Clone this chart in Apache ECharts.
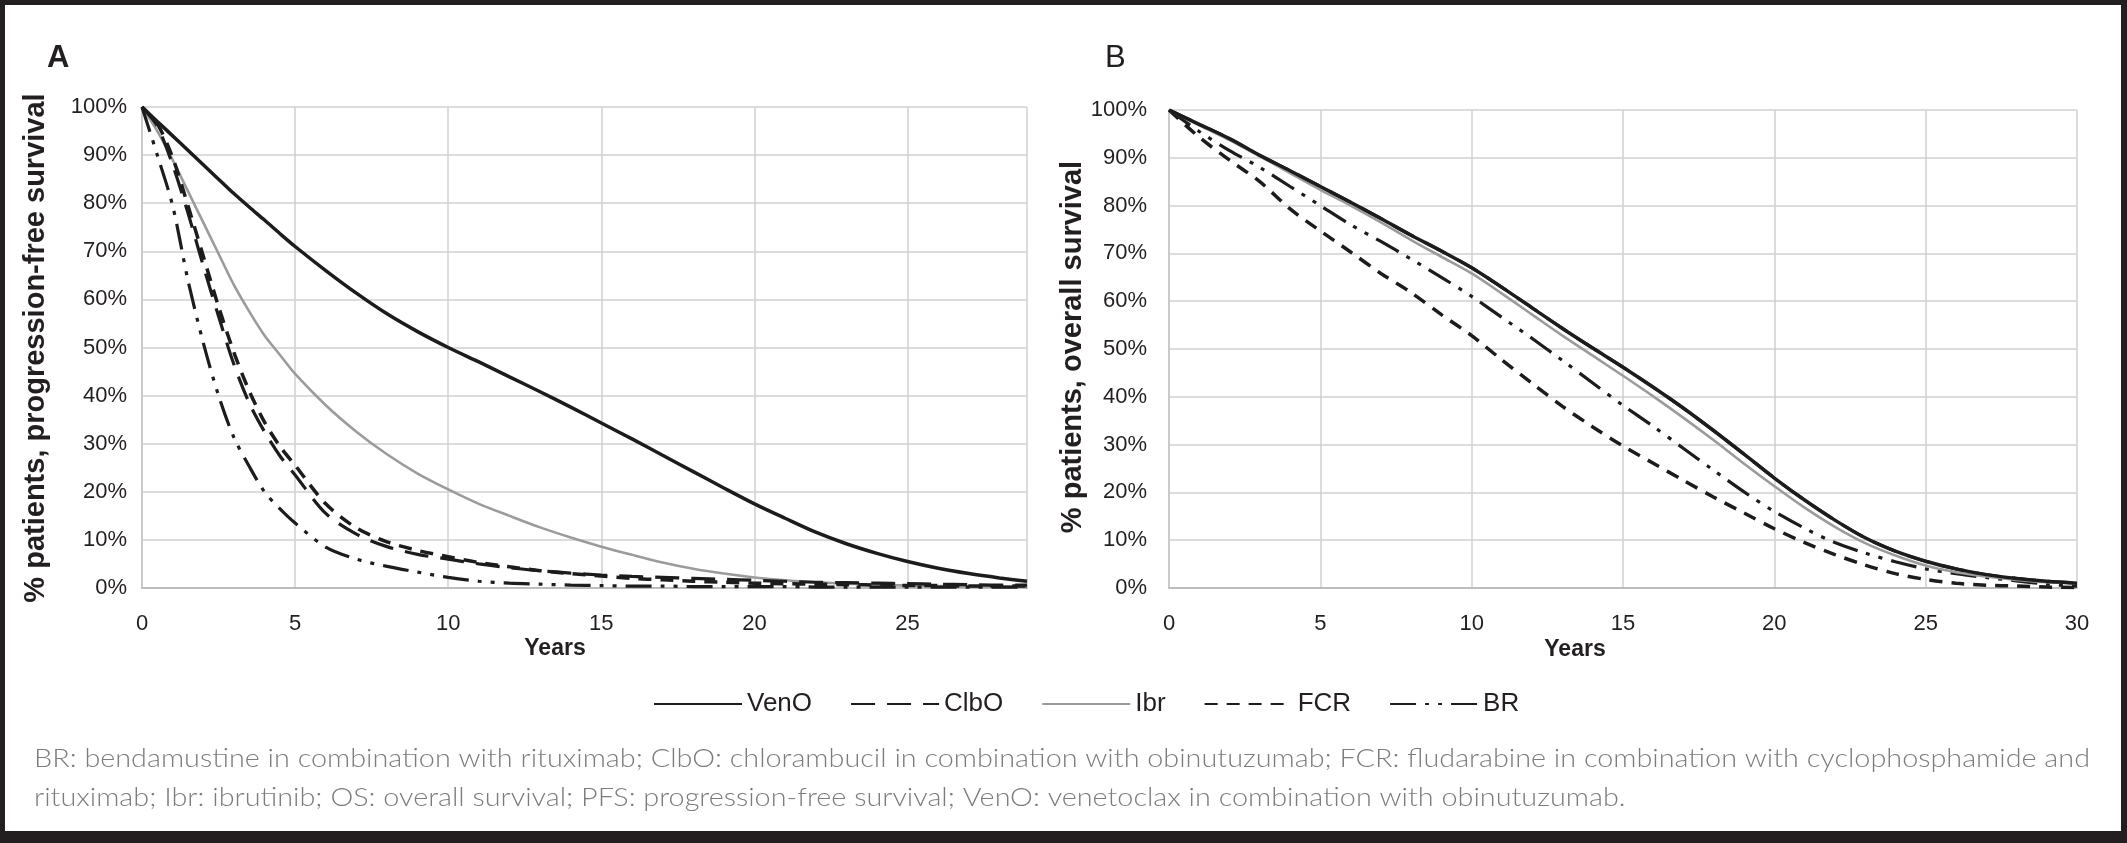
<!DOCTYPE html>
<html><head><meta charset="utf-8">
<script src="https://cdn.jsdelivr.net/npm/echarts@6/dist/echarts.min.js"></script>
<style>
html,body{margin:0;padding:0;background:#fff;}
#chart{position:absolute;left:0;top:0;width:2127px;height:843px;}
#frame{position:absolute;left:0;top:0;width:2127px;height:843px;box-sizing:border-box;border-style:solid;border-color:#231f20;border-width:5px 6px 12px 5px;pointer-events:none;}
</style></head><body>
<div id="chart"></div><div id="frame"></div>
<script>
// ---------- data ----------
const seriesNames = ['VenO', 'ClbO', 'Ibr', 'FCR', 'BR'];
const yTickStep = 10;
const xTickStep = 5;

// Panel A: progression-free survival (%)
const yearsA = [0,0.5,1,1.5,2,2.5,3,3.5,4,4.5,5,6,7,8,9,10,11,12,13,14,15,16,17,18,19,20,21,22,23,24,25,26,27,28,28.9];
const pfsVenO = [100,97,94,91,88,85,82,79.2,76.5,73.7,71,66,61.3,57,53.3,50,47,43.9,40.8,37.6,34.3,31,27.6,24.2,20.8,17.5,14.5,11.6,9.2,7.2,5.5,4.1,3,2.1,1.4];
const pfsClbO = [100,96,88,78,67,56.5,46.5,38.5,32.5,27.5,23.5,15.5,11.2,8.6,7,6,5,4.2,3.6,3.1,2.7,2.4,2.2,2,1.8,1.6,1.4,1.2,1.1,1,0.9,0.8,0.7,0.6,0.6];
const pfsIbr  = [100,95,89,82.5,76,69.5,63,57.5,52.5,48.5,44.5,38,32.5,27.8,23.8,20.5,17.5,15,12.6,10.5,8.6,6.9,5.3,4,3,2.2,1.6,1.2,0.9,0.7,0.5,0.4,0.3,0.3,0.2];
const pfsFCR  = [100,96.5,89.5,79.5,69,58.5,49,41,34.5,29.5,25.5,17.5,12.5,9.6,7.8,6.5,5.3,4.4,3.6,3,2.5,2,1.7,1.4,1.2,1,0.9,0.8,0.7,0.6,0.5,0.5,0.4,0.4,0.4];
const pfsBR   = [100,90,79.5,64,51,40,31.3,25.3,20,16.5,13.5,8.5,6,4.5,3.3,2.2,1.4,1,0.8,0.6,0.5,0.4,0.4,0.3,0.3,0.3,0.3,0.2,0.2,0.2,0.2,0.2,0.2,0.2,0.2];

// Panel B: overall survival (%)
const yearsB = [0,1,2,3,4,5,6,7,8,9,10,11,12,13,14,15,16,17,18,19,20,21,22,23,24,25,26,27,28,29,30];
const osVenO = [100,97,94,90.5,87.3,84,80.7,77.3,73.8,70.5,67,62.9,58.6,54.3,50.2,46.2,42,37.6,32.9,28,23,18.4,14.2,10.5,7.7,5.6,4,2.8,2,1.4,1];
const osClbO = [100,97,94,90.5,87.3,84,80.7,77.3,73.8,70.5,67,62.9,58.6,54.3,50.2,46.2,42,37.6,32.9,28,23,18.4,14.2,10.5,7.7,5.6,4,2.8,2,1.4,1];
const osIbr  = [100,96.8,93.7,90.3,86.8,83.3,80,76.5,72.8,69.3,65.8,61.6,57.2,52.8,48.6,44.4,40.1,35.6,30.9,26,21.3,16.8,12.8,9.4,6.8,4.7,3.3,2.4,1.7,1.2,1];
const osFCR  = [100,94.3,89.5,85,79.3,74.7,70.3,65.8,61.8,57.2,52.8,47.7,42.8,38,33.7,29.7,26.1,22.5,19,15.7,12.4,9.5,7,4.8,3,1.8,1,0.6,0.4,0.2,0.1];
const osBR   = [100,95.5,91.5,88,84,80,76,72.5,68.8,65,61,56.6,52.2,47.6,42.9,38.2,33.8,29.2,24.6,20.1,16,12.5,9.5,7.3,5.5,4,3,2.2,1.5,0.8,0.4];

const xMaxA = 28.9;
const xMaxB = 30;

const footLine1 = 'BR: bendamustine in combination with rituximab; ClbO: chlorambucil in combination with obinutuzumab; FCR: fludarabine in combination with cyclophosphamide and';
const footLine2 = 'rituximab; Ibr: ibrutinib; OS: overall survival; PFS: progression-free survival; VenO: venetoclax in combination with obinutuzumab.';

// ---------- styles ----------
const FONT = '"Liberation Sans", Arial, Helvetica, sans-serif';
const INK = '#231f20';
const styles = {
  VenO: {color: '#1c1c1c', width: 3.5, type: 'solid'},
  ClbO: {color: '#1c1c1c', width: 3.2, type: [24, 12]},
  Ibr:  {color: '#9b9b9b', width: 2.6, type: 'solid'},
  FCR:  {color: '#1c1c1c', width: 3.5, type: [13, 9]},
  BR:   {color: '#1c1c1c', width: 3.2, type: [26, 9, 4, 9, 4, 9]}
};

function pairs(xs, ys) { return xs.map((x, i) => [x, ys[i]]); }
function mk(name, idx, xs, ys, z) {
  const s = styles[name];
  return {
    name, type: 'line', xAxisIndex: idx, yAxisIndex: idx,
    data: pairs(xs, ys), showSymbol: false, symbol: 'none',
    smooth: 0.3, z: z,
    color: s.color,
    lineStyle: {color: s.color, width: s.width, type: s.type, cap: 'butt'},
    emphasis: {disabled: true}
  };
}

const series = [
  mk('Ibr', 0, yearsA, pfsIbr, 2),
  mk('BR', 0, yearsA, pfsBR, 3),
  mk('FCR', 0, yearsA, pfsFCR, 3),
  mk('ClbO', 0, yearsA, pfsClbO, 4),
  mk('VenO', 0, yearsA, pfsVenO, 5),
  mk('ClbO', 1, yearsB, osClbO, 2),
  mk('BR', 1, yearsB, osBR, 3),
  mk('FCR', 1, yearsB, osFCR, 3),
  mk('Ibr', 1, yearsB, osIbr, 4),
  mk('VenO', 1, yearsB, osVenO, 5)
];

function xAxis(idx, max, showMax) {
  return {
    type: 'value', gridIndex: idx, min: 0, max: max, interval: xTickStep,
    axisLine: {show: true, lineStyle: {color: '#bdbdbd', width: 2}},
    axisTick: {show: false},
    splitLine: {show: true, lineStyle: {color: '#d0d0d0', width: 1.5}},
    axisLabel: {
      color: INK, fontFamily: FONT, fontSize: 22, margin: 25,
      showMaxLabel: showMax,
      formatter: v => (Math.abs(v % xTickStep) < 1e-9 ? String(v) : '')
    }
  };
}
function yAxis(idx, margin) {
  return {
    type: 'value', gridIndex: idx, min: 0, max: 100, interval: yTickStep,
    axisLine: {show: true, lineStyle: {color: '#c4c4c4', width: 1.5}},
    axisTick: {show: false},
    splitLine: {show: true, lineStyle: {color: '#d0d0d0', width: 1.5}},
    axisLabel: {color: INK, fontFamily: FONT, fontSize: 22, margin: margin, formatter: '{value}%'}
  };
}

// footnote horizontal fit
const FOOT_FONT_FAMILY = 'Lato, "Open Sans", "Liberation Sans", sans-serif';
const FOOT_SIZE = 26;
const cv = document.createElement('canvas').getContext('2d');
cv.font = '300 ' + FOOT_SIZE + 'px ' + FOOT_FONT_FAMILY;
const w1 = cv.measureText(footLine1).width || 2056;
const footScale = 2056 / w1;

const graphic = [
  {type: 'text', x: 47, y: 58, style: {text: 'A', fontFamily: FONT, fontSize: 31, fontWeight: 'bold', fill: INK, verticalAlign: 'middle'}},
  {type: 'text', x: 1105, y: 58, style: {text: 'B', fontFamily: FONT, fontSize: 31, fontWeight: 'normal', fill: INK, verticalAlign: 'middle'}},
  {type: 'text', x: 36, y: 348, rotation: Math.PI / 2, style: {text: '% patients, progression-free survival', fontFamily: FONT, fontSize: 29, fontWeight: 'bold', fill: INK, align: 'center', verticalAlign: 'middle'}},
  {type: 'text', x: 1073, y: 347, rotation: Math.PI / 2, style: {text: '% patients, overall survival', fontFamily: FONT, fontSize: 29, fontWeight: 'bold', fill: INK, align: 'center', verticalAlign: 'middle'}},
  {type: 'text', x: 555, y: 649, style: {text: 'Years', fontFamily: FONT, fontSize: 23, fontWeight: 'bold', fill: INK, align: 'center', verticalAlign: 'middle'}},
  {type: 'text', x: 1575, y: 650, style: {text: 'Years', fontFamily: FONT, fontSize: 23, fontWeight: 'bold', fill: INK, align: 'center', verticalAlign: 'middle'}},
  {type: 'text', x: 34, y: 759, scaleX: footScale, style: {text: footLine1, fontFamily: FOOT_FONT_FAMILY, fontSize: FOOT_SIZE, fontWeight: 300, fill: '#7c7c7c', verticalAlign: 'middle'}},
  {type: 'text', x: 34, y: 798, scaleX: footScale, style: {text: footLine2, fontFamily: FOOT_FONT_FAMILY, fontSize: FOOT_SIZE, fontWeight: 300, fill: '#7c7c7c', verticalAlign: 'middle'}}
];

const chart = echarts.init(document.getElementById('chart'), null, {renderer: 'canvas'});
chart.setOption({
  backgroundColor: '#ffffff',
  animation: false,
  grid: [
    {left: 142, top: 107, width: 885, height: 481},
    {left: 1169, top: 110, width: 908, height: 478}
  ],
  xAxis: [xAxis(0, xMaxA, false), xAxis(1, xMaxB, true)],
  yAxis: [yAxis(0, 15), yAxis(1, 22)],
  legend: {
    data: seriesNames, left: 648, top: 686,
    itemWidth: 88, itemHeight: 14, itemGap: 38,
    itemStyle: {opacity: 0, color: 'rgba(0,0,0,0)', borderWidth: 0},
    textStyle: {color: INK, fontFamily: FONT, fontSize: 26},
    selectedMode: false
  },
  graphic: graphic,
  series: series
});
</script>
</body></html>
